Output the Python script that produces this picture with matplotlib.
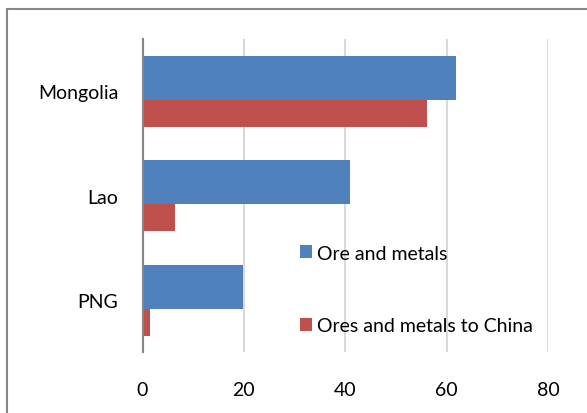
import matplotlib
matplotlib.use("Agg")
import matplotlib.pyplot as plt
from matplotlib.patches import Rectangle
import numpy as np

categories = ["Mongolia", "Lao", "PNG"]
ore_and_metals = [61.8, 41.0, 19.9]
ores_to_china = [56.2, 6.5, 1.4]
x_ticks = [0, 20, 40, 60, 80]

blue = "#4f81bd"
red = "#c0504d"

plt.rcParams["font.family"] = ["Lato", "DejaVu Sans"]

W, H = 587, 414
fig = plt.figure(figsize=(W / 100, H / 100), dpi=100)

# outer chart border
fig.patches.append(Rectangle((7 / W, -0.1), 1.2, 1 - 10 / H + 0.1,
                             transform=fig.transFigure, fill=False,
                             edgecolor="#878787", linewidth=1.5))

ax = fig.add_axes([142.5 / W, 1 - 353 / H, 405.5 / W, 313 / H])

y = np.arange(len(categories))
h = 0.422
ax.barh(y + 0.132, ores_to_china, height=h, color=red,
        label="Ores and metals to China", zorder=2)
ax.barh(y - 0.127, ore_and_metals, height=h, color=blue,
        label="Ore and metals", zorder=3)

ax.set_xlim(0, 80)
ax.set_ylim(len(categories) - 0.5, -0.5)
ax.set_xticks(x_ticks)
ax.set_yticks(y)
ax.set_yticklabels(categories)
ax.tick_params(axis="both", length=0, labelsize=14, colors="black")
ax.tick_params(axis="x", pad=21)
ax.tick_params(axis="y", pad=17.5)
ax.xaxis.grid(True, color="#d9d9d9", linewidth=1.5, zorder=0)
ax.set_axisbelow(True)
for s in ["top", "right", "bottom"]:
    ax.spines[s].set_visible(False)
ax.spines["left"].set_color("#868686")
ax.spines["left"].set_linewidth(1.5)
ax.spines["left"].set_zorder(4)

handles, labels = ax.get_legend_handles_labels()
ax.legend(handles[::-1], labels[::-1], loc="upper left",
          bbox_to_anchor=((292 - 142.5) / 405.5, (353 - 238) / 313),
          frameon=False, fontsize=14, handlelength=0.65, handleheight=0.65,
          handletextpad=0.25, labelspacing=2.85, borderaxespad=0)

fig.savefig("out.png", dpi=100)
